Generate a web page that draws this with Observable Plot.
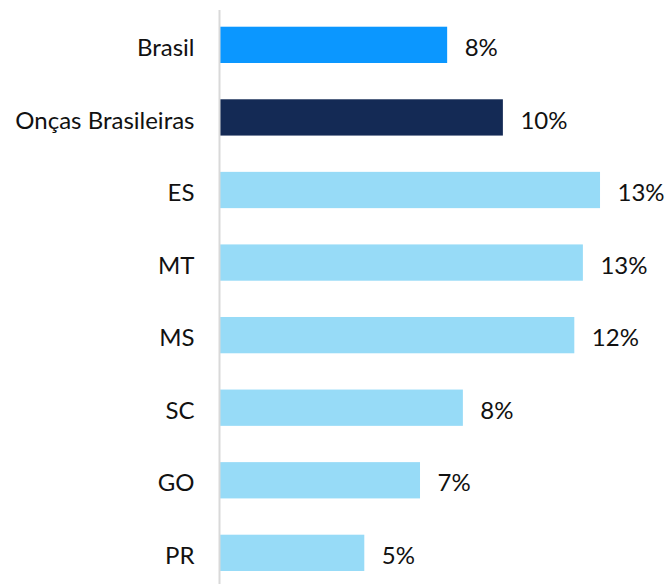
<!DOCTYPE html>
<html>
<head>
<meta charset="utf-8">
<script src="https://cdn.jsdelivr.net/npm/d3@7"></script>
<script src="https://cdn.jsdelivr.net/npm/@observablehq/plot@0.6"></script>
<style>
  html, body { margin: 0; padding: 0; background: #ffffff; }
  #chart svg { display: block; }
</style>
</head>
<body>
<div id="chart"></div>
<script>
const categories = ["Brasil", "Onças Brasileiras", "ES", "MT", "MS", "SC", "GO", "PR"];
const values = [7.95, 9.9, 13.3, 12.7, 12.4, 8.5, 7.0, 5.05];
const labels = ["8%", "10%", "13%", "13%", "12%", "8%", "7%", "5%"];
const colors = ["#0b97ff", "#142a55", "#97dbf7", "#97dbf7", "#97dbf7", "#97dbf7", "#97dbf7", "#97dbf7"];

const data = categories.map((c, i) => ({cat: c, value: values[i], label: labels[i], color: colors[i]}));
const font = "Lato, 'Open Sans', sans-serif";

const chart = Plot.plot({
  width: 667,
  height: 584,
  marginLeft: 220,
  marginRight: 18.4,
  marginTop: 10,
  marginBottom: 0,
  style: {fontFamily: font, fontSize: "24px", color: "#111", background: "#fff"},
  x: {domain: [0, 15], axis: null},
  y: {type: "band", domain: categories, range: [8.57, 589.13], paddingInner: 0.5, paddingOuter: 0.25, round: false, label: null},
  marks: [
    Plot.barX(data, {x: "value", y: "cat", fill: "color"}),
    Plot.ruleX([0], {stroke: "#d9d9d9", strokeWidth: 2, dx: -1}),
    Plot.axisY({tickSize: 0, tickPadding: 26, fontSize: 24, fill: "#111", dy: 3, label: null}),
    Plot.text(data, {x: "value", y: "cat", text: "label", textAnchor: "start", dx: 17, dy: 3, fontSize: 24, fill: "#111"})
  ]
});
document.getElementById("chart").appendChild(chart);
</script>
</body>
</html>
